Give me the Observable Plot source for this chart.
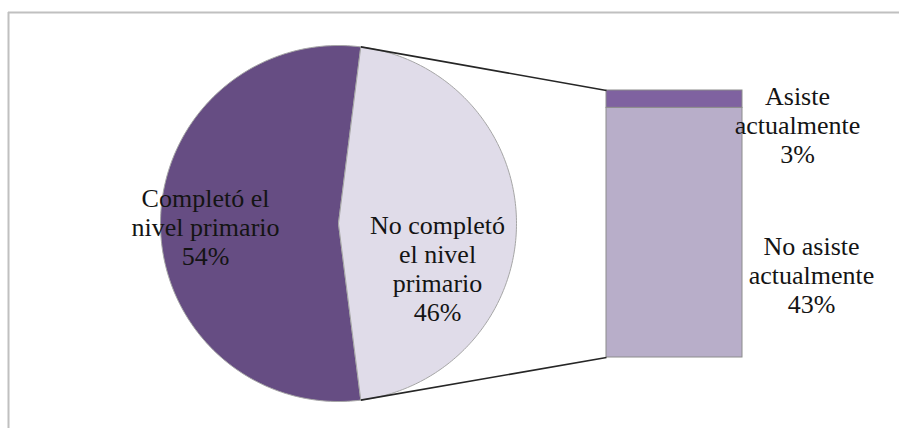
<!DOCTYPE html>
<html><head><meta charset="utf-8">
<script src="https://cdn.jsdelivr.net/npm/d3@7"></script>
<script src="https://cdn.jsdelivr.net/npm/@observablehq/plot@0.6"></script>
<style>html,body{margin:0;padding:0;background:#fff}#chart svg{display:block}#chart svg text{font-family:"Liberation Serif","Times New Roman",serif}</style>
</head><body><div id="chart"></div>
<script>
// ---- data ----
const pieCategories = ["Completó el nivel primario", "No completó el nivel primario"];
const pieValues = [54, 46];
const pieLabelLines = [["Completó el", "nivel primario"], ["No completó", "el nivel", "primario"]];
const barCategories = ["Asiste actualmente", "No asiste actualmente"];
const barValues = [3, 43];
const barLabelLines = [["Asiste", "actualmente"], ["No asiste", "actualmente"]];

// ---- style / layout ----
const pieColors = ["#664d83", "#e0dce9"];
const barColors = ["#7f62a0", "#b8aec9"];
const W = 899, H = 428;
const cx = 338, cy = 223, r = 178;
const bx0 = 606, bx1 = 742, by0 = 90, by1 = 357;
const pieLabelPos = [{x: 205, y: 226}, {x: 437, y: 268}];
const barLabelPos = [{x: 797, y: 124}, {x: 811, y: 274}];
const font = "Liberation Serif";

// ---- geometry derived from data ----
const total = d3.sum(pieValues);
const splitFrac = pieValues[1] / total;
const a0 = Math.PI / 2 - splitFrac * Math.PI;
const a1 = Math.PI / 2 + splitFrac * Math.PI;
const pt = a => [cx + r * Math.sin(a), cy - r * Math.cos(a)];
const slices = [
  {name: pieCategories[0], start: a1, end: a0 + 2 * Math.PI, color: pieColors[0]},
  {name: pieCategories[1], start: a0, end: a1, color: pieColors[1]}
].map(s => {
  const pts = [{x: cx, y: cy}];
  const n = 180;
  for (let i = 0; i <= n; i++) {
    const [x, y] = pt(s.start + (s.end - s.start) * i / n);
    pts.push({x, y});
  }
  pts.push({x: cx, y: cy});
  return {...s, pts};
});

const barTotal = d3.sum(barValues);
let cum = 0;
const barData = barCategories.map((c, i) => {
  const y1 = by0 + (cum / barTotal) * (by1 - by0);
  cum += barValues[i];
  const y2 = by0 + (cum / barTotal) * (by1 - by0);
  return {name: c, value: barValues[i], y1, y2, color: barColors[i]};
});

const [tx, ty] = pt(a0), [bxp, byp] = pt(a1);
const connectors = [
  {x1: tx, y1: ty, x2: bx0, y2: by0},
  {x1: bxp, y1: byp, x2: bx0, y2: by1}
];

const pieText = pieCategories.map((c, i) => ({
  text: [...pieLabelLines[i], Math.round(pieValues[i] / total * 100) + "%"].join("\n"),
  x: pieLabelPos[i].x, y: pieLabelPos[i].y
}));
const barText = barCategories.map((c, i) => ({
  text: [...barLabelLines[i], Math.round(barValues[i] / total * 100) + "%"].join("\n"),
  x: barLabelPos[i].x, y: barLabelPos[i].y
}));

const chart = Plot.plot({
  width: W, height: H, margin: 0,
  x: {type: "identity", axis: null}, y: {type: "identity", axis: null},
  style: {background: "#fff"},
  marks: [
    Plot.ruleY([12], {x1: 8, x2: W, stroke: "#c0c0c0", strokeWidth: 2}),
    Plot.ruleX([8], {y1: 12, y2: H, stroke: "#c0c0c0", strokeWidth: 2}),
    ...slices.map(s => Plot.line(s.pts, {x: "x", y: "y", fill: s.color, stroke: "#a6a6a6", strokeWidth: 1, curve: "linear"})),
    Plot.rect(barData, {x1: bx0, x2: bx1, y1: "y1", y2: "y2", fill: "color", stroke: "#8c8c8c", strokeWidth: 1, inset: 0}),
    Plot.link(connectors, {x1: "x1", y1: "y1", x2: "x2", y2: "y2", stroke: "#262626", strokeWidth: 1.6}),
    Plot.text(pieText, {x: "x", y: "y", text: "text", fontFamily: font, fontSize: 26, lineHeight: 1.12, fill: "#141414", textAnchor: "middle"}),
    Plot.text(barText, {x: "x", y: "y", text: "text", fontFamily: font, fontSize: 26, lineHeight: 1.12, fill: "#141414", textAnchor: "middle"})
  ]
});
document.getElementById("chart").append(chart);
</script>
</body></html>
